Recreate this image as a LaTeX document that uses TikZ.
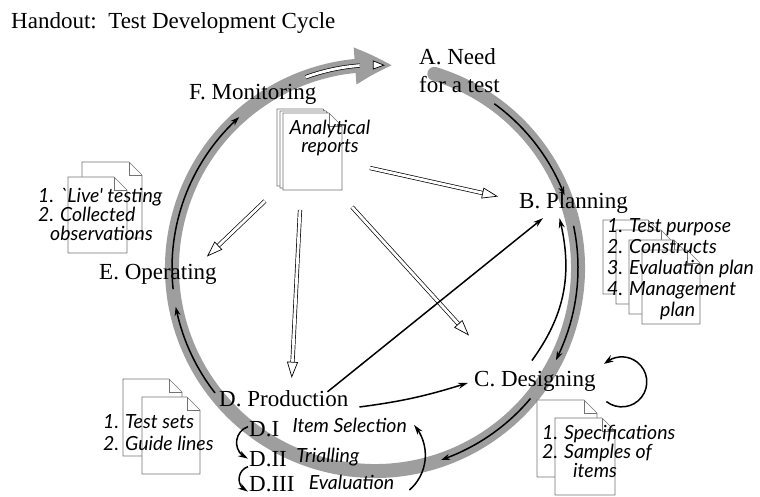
\documentclass[tikz,border=0pt]{standalone}
\usepackage{fontspec}
\setmainfont{Liberation Serif}
\newfontfamily\handfont{Lato}
\usetikzlibrary{arrows.meta,bending}

\tikzset{
  lbl/.style={font=\fontsize{23}{28}\selectfont, inner sep=1pt, anchor=base west, align=left},
  hand/.style={font=\handfont\itshape\fontsize{19.5}{#1}\selectfont, inner sep=0pt, anchor=base west, align=left},
  hand/.default=20,
  band/.style={line width=14pt, black!38, line cap=round, -{Triangle[length=38pt,width=34pt,bend]}},
  cyc/.style={line width=1.5pt, -{Stealth[length=9pt,width=6pt,bend]}},
  link/.style={line width=1.5pt, -{Stealth[length=10pt,width=6pt]}},
  hollow/.style={double=white, double distance=2.8pt, line width=0.7pt, -{Triangle[open,fill=white,length=16pt,width=11pt]}},
  docline/.style={draw=black!55, fill=white, line width=0.6pt}
}

% one sheet with a folded corner: top-left corner, width, height
\newcommand{\docpage}[3]{%
  \filldraw[docline] (#1) -- ++(#2-13,0) -- ++(13,-13) -- ++(0,-#3+13) -- ++(-#2,0) -- cycle;
  \draw[docline, fill=none] (#1) ++(#2-13,0) -- ++(0,-13) -- ++(13,0);
}

\begin{document}
\begin{tikzpicture}[x=1pt, y=1pt]
\useasboundingbox (0,0) rectangle (760,497);
\coordinate (ctr) at (375,229);

% the cycle
\draw[band] ([shift={(73:203)}]ctr) arc[start angle=73, end angle=-275, radius=203];
\draw[hollow, -{Triangle[open,fill=white,length=12pt,width=9pt,bend]}] ([shift={(110:203)}]ctr) arc[start angle=110, end angle=91, radius=203];
\draw[cyc] ([shift={(54:203)}]ctr) arc[start angle=54, end angle=21, radius=203];
\draw[cyc] ([shift={(12:203)}]ctr) arc[start angle=12, end angle=-27, radius=203];
\draw[cyc] ([shift={(-40:203)}]ctr) arc[start angle=-40, end angle=-71, radius=203];
\draw[cyc] ([shift={(218:203)}]ctr) arc[start angle=218, end angle=191, radius=203];
\draw[cyc] ([shift={(186:203)}]ctr) arc[start angle=186, end angle=132, radius=203];

% sheets
\docpage{277,388}{59}{77}
\docpage{280,386}{59}{77}
\docpage{283,384}{59}{77}
\docpage{82,335}{60}{76}
\docpage{68,320}{59}{76}
\docpage{603,277}{58}{74}
\docpage{616,267}{58}{74}
\docpage{629,257}{58}{74}
\docpage{642,247}{58}{74}
\docpage{537,97}{60}{77}
\docpage{555,79}{60}{77}
\docpage{123,118}{59}{77}
\docpage{142,100}{58}{77}
\coordinate (rep) at (310,347);

% labels
\node[lbl] (title) at (10,468) {Handout:\ \ Test Development Cycle};
\node[lbl] (need) at (418,404) {A. Need\\for a test};
\node[lbl] (plan) at (518,288) {B. Planning};
\node[lbl] (design) at (473,110) {C. Designing};
\node[lbl] (prod) at (218,90) {D. Production};
\node[lbl] (oper) at (98,217) {E. Operating};
\node[lbl] (monit) at (188,397) {F. Monitoring};
\node[lbl] (d1) at (248,60) {D.I};
\node[lbl] (d2) at (248,30) {D.II};
\node[lbl] (d3) at (248,5) {D.III};
\node[hand] (d1t) at ([shift={(12,4)}]d1.base east) {Item Selection};
\node[hand] (d2t) at ([shift={(8,4)}]d2.base east) {Trialling};
\node[hand] (d3t) at ([shift={(13,2)}]d3.base east) {Evaluation};

% notes on the sheets
\node[hand=18, anchor=base, align=center] (reports) at (330,344) {Analytical\\reports};
\node[hand=19] (liveT) at (38,256) {1. `Live' testing\\2. Collected\\\hspace*{12pt}observations};
\node[hand=21] (planT) at (607,180) {1. Test purpose\\2. Constructs\\3. Evaluation plan\\4. Management\\\hspace*{53pt}plan};
\node[hand=19] (specT) at (542,19) {1. Specifications\\2. Samples of\\\hspace*{31pt}items};
\node[hand=22] (setsT) at (103,46) {1. Test sets\\2. Guide lines};

% feedback from monitoring
\draw[hollow] ([shift={(60,-18)}]rep) -- ([shift={(-20,7)}]plan.west);
\draw[hollow] ([shift={(42,-57)}]rep) -- ([shift={(-4,35)}]design.north west);
\draw[hollow] ([shift={(-10,-60)}]rep) -- ([shift={(8,12)}]prod.north);
\draw[hollow] ([shift={(-45,-51)}]rep) -- ([shift={(-11,7)}]oper.north east);

% links
\draw[link] ([shift={(-22,-2)}]prod.north east) -- ([shift={(25,-3)}]plan.south west);
\draw[link] ([xshift=10pt]prod.base east) to[bend right=5] ([shift={(-5,-1)}]design.west);
\draw[link] ([shift={(-3,10)}]design.north) to[bend right=25] ([shift={(-14,-3)}]plan.south);
\coordinate (loopc) at ([xshift=25pt]design.east);
\draw[line width=1.5pt, -{Stealth[length=10pt,width=7pt,bend]}] ([shift={(-128:25)}]loopc) arc[start angle=-128, end angle=135, radius=25];
\draw[link] ([yshift=3pt]d1.west) to[bend right=70, looseness=1.3] ([yshift=1pt]d2.west);
\draw[link] ([yshift=-7pt]d2.west) to[bend right=70, looseness=1.3] ([yshift=-7pt]d3.west);
\draw[link] ([xshift=15pt]d3t.base east) to[bend right=45] ([shift={(7,1)}]d1t.east);

\end{tikzpicture}
\end{document}
